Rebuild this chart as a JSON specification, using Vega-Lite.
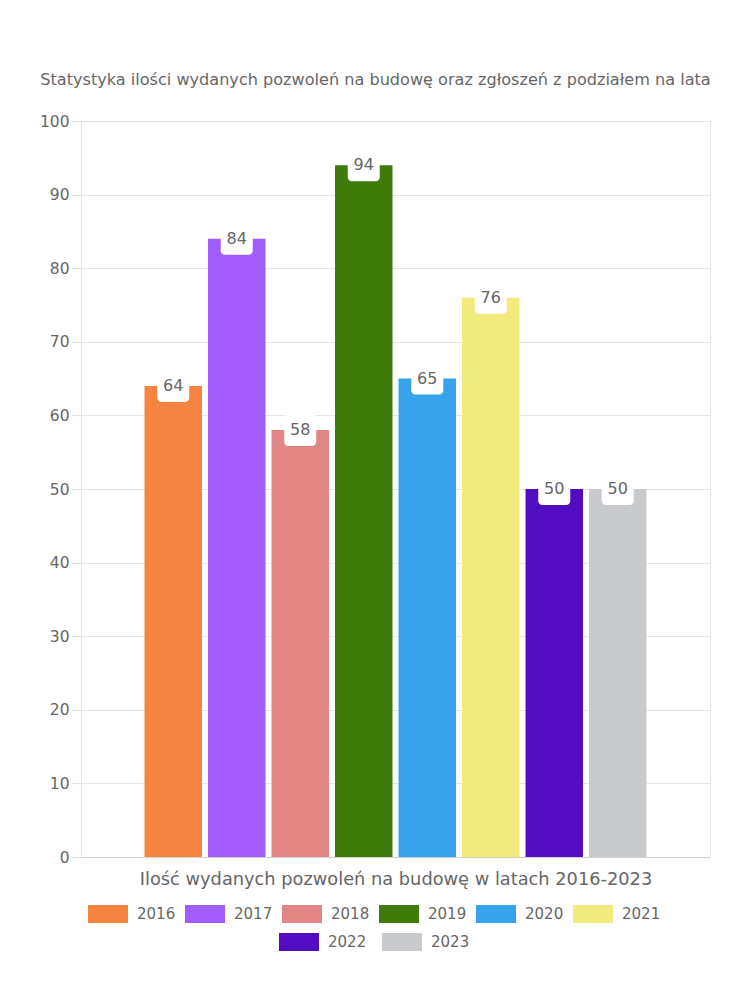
{
  "$schema": "https://vega.github.io/schema/vega-lite/v6.json",
  "width": 629,
  "height": 736,
  "autosize": "none",
  "padding": {"left": 81, "top": 121, "right": 40, "bottom": 142},
  "title": {
    "text": "Statystyka ilości wydanych pozwoleń na budowę oraz zgłoszeń z podziałem na lata",
    "font": "DejaVu Sans",
    "fontSize": 16.1,
    "fontWeight": "normal",
    "color": "#666666",
    "anchor": "middle",
    "offset": 26,
    "dx": -20
  },
  "data": {
    "values": [
      {"year": "2016", "value": 64},
      {"year": "2017", "value": 84},
      {"year": "2018", "value": 58},
      {"year": "2019", "value": 94},
      {"year": "2020", "value": 65},
      {"year": "2021", "value": 76},
      {"year": "2022", "value": 50},
      {"year": "2023", "value": 50}
    ]
  },
  "encoding": {
    "x": {
      "field": "year",
      "type": "nominal",
      "scale": {
        "domain": ["2016", "2017", "2018", "2019", "2020", "2021", "2022", "2023"],
        "paddingInner": 0.095,
        "paddingOuter": 1.05
      },
      "axis": {
        "labels": false,
        "ticks": false,
        "grid": false,
        "domain": true,
        "domainColor": "#d0d0d0",
        "title": "Ilość wydanych pozwoleń na budowę w latach 2016-2023",
        "titleFont": "DejaVu Sans",
        "titleFontSize": 17.8,
        "titleFontWeight": "normal",
        "titleColor": "#666666",
        "titlePadding": 13
      }
    },
    "y": {
      "field": "value",
      "type": "quantitative",
      "scale": {"domain": [0, 100], "nice": false},
      "axis": {
        "title": null,
        "values": [0, 10, 20, 30, 40, 50, 60, 70, 80, 90, 100],
        "labelFont": "DejaVu Sans",
        "labelFontSize": 15.5,
        "labelColor": "#666666",
        "labelPadding": 3,
        "tickSize": 9,
        "tickColor": "#e0e0e0",
        "domainColor": "#e0e0e0",
        "gridColor": "#e6e6e6"
      }
    }
  },
  "layer": [
    {
      "transform": [{"filter": {"field": "year", "oneOf": ["2016", "2017", "2018", "2019", "2020", "2021"]}}],
      "mark": {"type": "bar"},
      "encoding": {
        "color": {
          "field": "year",
          "type": "nominal",
          "scale": {
            "domain": ["2016", "2017", "2018", "2019", "2020", "2021"],
            "range": ["#f4843f", "#a25cfe", "#e18585", "#3e7b0b", "#37a3ea", "#f0eb7c"]
          },
          "legend": {"title": " ", "orient": "bottom", "direction": "horizontal", "columns": 6}
        }
      }
    },
    {
      "transform": [{"filter": {"field": "year", "oneOf": ["2022", "2023"]}}],
      "mark": {"type": "bar"},
      "encoding": {
        "fill": {
          "field": "year",
          "type": "nominal",
          "scale": {
            "domain": ["2022", "2023"],
            "range": ["#520dc1", "#c9cacd"]
          },
          "legend": {"title": " ", "orient": "bottom", "direction": "horizontal", "columns": 2, "columnPadding": 15}
        }
      }
    },
    {
      "mark": {
        "type": "point",
        "shape": "M-0.75,-1H0.75A0.25,0.25 0 0 1 1,-0.75V0.75A0.25,0.25 0 0 1 0.75,1H-0.75A0.25,0.25 0 0 1 -1,0.75V-0.75A0.25,0.25 0 0 1 -0.75,-1Z",
        "filled": true,
        "color": "#ffffff",
        "opacity": 1,
        "size": 1024
      }
    },
    {
      "mark": {
        "type": "text",
        "baseline": "middle",
        "font": "DejaVu Sans",
        "fontSize": 16,
        "color": "#666666"
      },
      "encoding": {"text": {"field": "value", "type": "quantitative"}}
    }
  ],
  "config": {
    "view": {"stroke": "#e6e6e6"},
    "legend": {
      "symbolType": "M-1,-0.9H3V0.9H-1Z",
      "symbolSize": 400,
      "symbolStrokeWidth": 0,
      "symbolOpacity": 1,
      "labelFont": "DejaVu Sans",
      "labelFontSize": 15,
      "labelColor": "#666666",
      "labelOffset": 29,
      "columnPadding": 9,
      "rowPadding": 8,
      "offset": 16,
      "titleOrient": "right",
      "titlePadding": 44,
      "titleFontSize": 4,
      "titleColor": "#ffffff",
      "layout": {"bottom": {"anchor": "middle", "direction": "vertical", "center": true, "margin": 9}}
    }
  }
}
